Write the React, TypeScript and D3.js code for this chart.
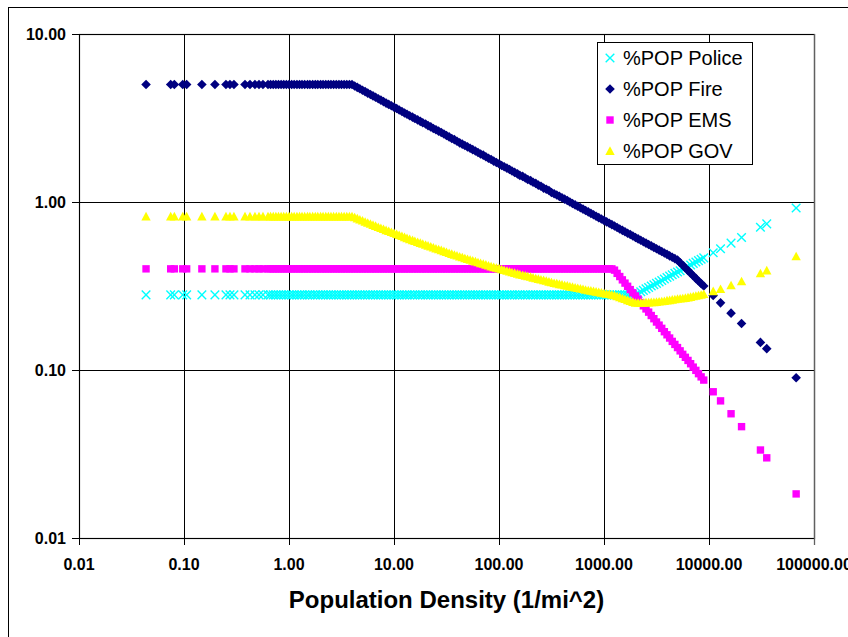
import React from "react";
import * as d3 from "d3";

// ---- data ----
// main sample of densities (1/mi^2)
const density = [
  0.0435, 0.0747, 0.0809, 0.0973, 0.106, 0.148, 0.197, 0.251, 0.274, 0.299, 0.381, 0.425, 0.474, 0.518, 0.565,
  0.631, 0.708, 0.794, 0.891, 1, 1.12, 1.26, 1.41, 1.58, 1.78, 2.0, 2.24, 2.51, 2.82, 3.16, 3.55,
  3.98, 4.47, 5.01, 5.62, 6.31, 7.08, 7.94, 8.91, 10, 11.2,
  12.6, 14.1, 15.8, 17.8, 20.0, 22.4, 25.1, 28.2, 31.6, 35.5,
  39.8, 44.7, 50.1, 56.2, 63.1, 70.8, 79.4, 89.1, 100, 112,
  126, 141, 158, 178, 200, 224, 251, 282, 316, 355,
  398, 447, 501, 562, 631, 708, 794, 891, 1000, 1122,
  1259, 1413, 1585, 1778, 1995, 2239, 2512, 2818, 3162, 3548,
  3981, 4467, 5012, 5623, 6310, 7079, 7943, 8913,
  10965, 12882, 16218, 20417, 30903, 35481, 67608,
];
// further densities lying between the ones above (dense band)
const densityMid = [
  0.668, 0.75, 0.841, 0.944, 1.06, 1.19, 1.33, 1.5, 1.68, 1.88, 2.11, 2.37, 2.66, 2.99, 3.35, 3.76,
  4.22, 4.73, 5.31, 5.96, 6.68, 7.5, 8.41, 9.44, 10.6, 11.9,
  13.3, 15.0, 16.8, 18.8, 21.1, 23.7, 26.6, 29.9, 33.5, 37.6,
  42.2, 47.3, 53.1, 59.6, 66.8, 75.0, 84.1, 94.4, 106, 119,
  133, 150, 168, 188, 211, 237, 266, 299, 335, 376,
  422, 473, 531, 596, 668, 750, 841, 944, 1059, 1189,
  1334, 1496, 1679, 1884, 2113, 2371, 2661, 2985, 3350, 3758,
  4217, 4732, 5309, 5957, 6683, 7499, 8414,
];

const police = [
  0.28, 0.28, 0.28, 0.28, 0.28, 0.28, 0.28, 0.28, 0.28, 0.28, 0.28, 0.28, 0.28, 0.28, 0.28,
  0.28, 0.28, 0.28, 0.28, 0.28, 0.28, 0.28, 0.28, 0.28, 0.28, 0.28, 0.28, 0.28, 0.28, 0.28, 0.28,
  0.28, 0.28, 0.28, 0.28, 0.28, 0.28, 0.28, 0.28, 0.28, 0.28,
  0.28, 0.28, 0.28, 0.28, 0.28, 0.28, 0.28, 0.28, 0.28, 0.28,
  0.28, 0.28, 0.28, 0.28, 0.28, 0.28, 0.28, 0.28, 0.28, 0.28,
  0.28, 0.28, 0.28, 0.28, 0.28, 0.28, 0.28, 0.28, 0.28, 0.28,
  0.28, 0.28, 0.28, 0.28, 0.28, 0.28, 0.28, 0.28, 0.28, 0.28,
  0.28, 0.28, 0.28, 0.28, 0.281, 0.292, 0.304, 0.316, 0.328, 0.341,
  0.355, 0.369, 0.383, 0.398, 0.414, 0.431, 0.448, 0.465,
  0.499, 0.527, 0.569, 0.615, 0.707, 0.741, 0.921,
];
const policeMid = [
  0.28, 0.28, 0.28, 0.28, 0.28, 0.28, 0.28, 0.28, 0.28, 0.28, 0.28, 0.28, 0.28, 0.28, 0.28, 0.28,
  0.28, 0.28, 0.28, 0.28, 0.28, 0.28, 0.28, 0.28, 0.28, 0.28,
  0.28, 0.28, 0.28, 0.28, 0.28, 0.28, 0.28, 0.28, 0.28, 0.28,
  0.28, 0.28, 0.28, 0.28, 0.28, 0.28, 0.28, 0.28, 0.28, 0.28,
  0.28, 0.28, 0.28, 0.28, 0.28, 0.28, 0.28, 0.28, 0.28, 0.28,
  0.28, 0.28, 0.28, 0.28, 0.28, 0.28, 0.28, 0.28, 0.28, 0.28,
  0.28, 0.28, 0.28, 0.28, 0.286, 0.298, 0.31, 0.322, 0.334, 0.348,
  0.362, 0.376, 0.39, 0.406, 0.422, 0.439, 0.456,
];

const fire = [
  5.0, 5.0, 5.0, 5.0, 5.0, 5.0, 5.0, 5.0, 5.0, 5.0, 5.0, 5.0, 5.0, 5.0, 5.0,
  5.0, 5.0, 5.0, 5.0, 5.0, 5.0, 5.0, 5.0, 5.0, 5.0, 5.0, 5.0, 5.0, 5.0, 5.0, 5.0,
  5.0, 4.81, 4.63, 4.45, 4.28, 4.12, 3.96, 3.81, 3.67, 3.53,
  3.39, 3.26, 3.14, 3.02, 2.91, 2.8, 2.69, 2.59, 2.49, 2.39,
  2.3, 2.21, 2.13, 2.05, 1.97, 1.9, 1.82, 1.75, 1.69, 1.62,
  1.56, 1.5, 1.44, 1.39, 1.34, 1.29, 1.24, 1.19, 1.14, 1.1,
  1.06, 1.02, 0.98, 0.943, 0.907, 0.873, 0.839, 0.807, 0.777, 0.747,
  0.719, 0.691, 0.665, 0.64, 0.615, 0.592, 0.569, 0.548, 0.527, 0.507,
  0.488, 0.469, 0.451, 0.42, 0.391, 0.364, 0.339, 0.316,
  0.278, 0.251, 0.218, 0.189, 0.146, 0.134, 0.0899,
];
const fireMid = [
  5.0, 5.0, 5.0, 5.0, 5.0, 5.0, 5.0, 5.0, 5.0, 5.0, 5.0, 5.0, 5.0, 5.0, 5.0, 5.0,
  4.9, 4.72, 4.54, 4.36, 4.2, 4.04, 3.88, 3.74, 3.6, 3.46,
  3.33, 3.2, 3.08, 2.96, 2.85, 2.74, 2.64, 2.54, 2.44, 2.35,
  2.25, 2.17, 2.09, 2.01, 1.93, 1.86, 1.79, 1.72, 1.65, 1.59,
  1.53, 1.47, 1.42, 1.36, 1.31, 1.26, 1.21, 1.17, 1.12, 1.08,
  1.04, 1.0, 0.961, 0.925, 0.89, 0.856, 0.823, 0.792, 0.762, 0.733,
  0.705, 0.678, 0.652, 0.627, 0.603, 0.58, 0.558, 0.537, 0.517, 0.497,
  0.478, 0.46, 0.435, 0.405, 0.377, 0.351, 0.327,
];

const ems = [
  0.4, 0.4, 0.4, 0.4, 0.4, 0.4, 0.4, 0.4, 0.4, 0.4, 0.4, 0.4, 0.4, 0.4, 0.4,
  0.4, 0.4, 0.4, 0.4, 0.4, 0.4, 0.4, 0.4, 0.4, 0.4, 0.4, 0.4, 0.4, 0.4, 0.4, 0.4,
  0.4, 0.4, 0.4, 0.4, 0.4, 0.4, 0.4, 0.4, 0.4, 0.4,
  0.4, 0.4, 0.4, 0.4, 0.4, 0.4, 0.4, 0.4, 0.4, 0.4,
  0.4, 0.4, 0.4, 0.4, 0.4, 0.4, 0.4, 0.4, 0.4, 0.4,
  0.4, 0.4, 0.4, 0.4, 0.4, 0.4, 0.4, 0.4, 0.4, 0.4,
  0.4, 0.4, 0.4, 0.4, 0.4, 0.4, 0.4, 0.4, 0.4, 0.4,
  0.393, 0.36, 0.329, 0.301, 0.276, 0.252, 0.231, 0.211, 0.193, 0.177,
  0.162, 0.148, 0.136, 0.124, 0.114, 0.104, 0.0951, 0.0871,
  0.0742, 0.0655, 0.0549, 0.046, 0.0334, 0.03, 0.0183,
];
const emsMid = [
  0.4, 0.4, 0.4, 0.4, 0.4, 0.4, 0.4, 0.4, 0.4, 0.4, 0.4, 0.4, 0.4, 0.4, 0.4, 0.4,
  0.4, 0.4, 0.4, 0.4, 0.4, 0.4, 0.4, 0.4, 0.4, 0.4,
  0.4, 0.4, 0.4, 0.4, 0.4, 0.4, 0.4, 0.4, 0.4, 0.4,
  0.4, 0.4, 0.4, 0.4, 0.4, 0.4, 0.4, 0.4, 0.4, 0.4,
  0.4, 0.4, 0.4, 0.4, 0.4, 0.4, 0.4, 0.4, 0.4, 0.4,
  0.4, 0.4, 0.4, 0.4, 0.4, 0.4, 0.4, 0.4, 0.4, 0.4,
  0.376, 0.344, 0.315, 0.288, 0.264, 0.241, 0.221, 0.202, 0.185, 0.169,
  0.155, 0.142, 0.13, 0.119, 0.109, 0.0995, 0.091,
];

const gov = [
  0.82, 0.82, 0.82, 0.82, 0.82, 0.82, 0.82, 0.82, 0.82, 0.82, 0.82, 0.82, 0.82, 0.82, 0.82,
  0.82, 0.82, 0.82, 0.82, 0.82, 0.82, 0.82, 0.82, 0.82, 0.82, 0.82, 0.82, 0.82, 0.82, 0.82, 0.82,
  0.821, 0.797, 0.774, 0.751, 0.729, 0.709, 0.689, 0.67, 0.652, 0.635,
  0.617, 0.6, 0.585, 0.57, 0.556, 0.542, 0.528, 0.516, 0.503, 0.49,
  0.479, 0.468, 0.457, 0.447, 0.437, 0.428, 0.418, 0.409, 0.402, 0.393,
  0.385, 0.378, 0.37, 0.364, 0.358, 0.351, 0.345, 0.339, 0.332, 0.327,
  0.322, 0.317, 0.312, 0.307, 0.303, 0.298, 0.294, 0.29, 0.286, 0.283,
  0.278, 0.271, 0.264, 0.257, 0.251, 0.251, 0.252, 0.253, 0.254, 0.256,
  0.259, 0.262, 0.265, 0.267, 0.27, 0.274, 0.278, 0.283,
  0.294, 0.303, 0.319, 0.337, 0.376, 0.391, 0.474,
];
const govMid = [
  0.82, 0.82, 0.82, 0.82, 0.82, 0.82, 0.82, 0.82, 0.82, 0.82, 0.82, 0.82, 0.82, 0.82, 0.82, 0.82,
  0.809, 0.785, 0.762, 0.74, 0.719, 0.699, 0.679, 0.661, 0.643, 0.626,
  0.608, 0.592, 0.577, 0.563, 0.549, 0.535, 0.522, 0.509, 0.496, 0.484,
  0.473, 0.462, 0.452, 0.442, 0.432, 0.423, 0.413, 0.405, 0.397, 0.389,
  0.381, 0.374, 0.367, 0.361, 0.354, 0.348, 0.342, 0.335, 0.329, 0.324,
  0.319, 0.314, 0.309, 0.305, 0.3, 0.296, 0.292, 0.288, 0.284, 0.28,
  0.274, 0.267, 0.26, 0.254, 0.251, 0.251, 0.252, 0.253, 0.255, 0.257,
  0.26, 0.263, 0.266, 0.268, 0.272, 0.276, 0.28,
];

const xTicks = [0.01, 0.1, 1, 10, 100, 1000, 10000, 100000];
const yTicks = [0.01, 0.1, 1, 10];
const seriesNames = ["%POP Police", "%POP Fire", "%POP EMS", "%POP GOV"];
const xTitle = "Population Density (1/mi^2)";

const W = 848;
const H = 637;
const plot = { left: 79, right: 814, top: 34, bottom: 538 };

const x = d3.scaleLog().domain([0.01, 100000]).range([plot.left, plot.right]);
const y = d3.scaleLog().domain([0.01, 10]).range([plot.bottom, plot.top]);

const shapes: Record<string, { d: string; fill: string; stroke: string; sw: number }> = {
  police: { d: "M-4.3,-4.3L4.3,4.3M-4.3,4.3L4.3,-4.3", fill: "none", stroke: "#00FFFF", sw: 1.4 },
  fire: { d: "M0,-4.8L4.8,0L0,4.8L-4.8,0Z", fill: "#000080", stroke: "none", sw: 0 },
  ems: { d: "M-3.7,-3.7H3.7V3.7H-3.7Z", fill: "#FF00FF", stroke: "none", sw: 0 },
  gov: { d: "M0,-4.7L4.7,3.9L-4.7,3.9Z", fill: "#FFFF00", stroke: "none", sw: 0 },
};

const allDensity = density.concat(densityMid);
const seriesList = [
  { key: "police", values: police.concat(policeMid) },
  { key: "fire", values: fire.concat(fireMid) },
  { key: "ems", values: ems.concat(emsMid) },
  { key: "gov", values: gov.concat(govMid) },
];

const fmt = d3.format(".2f");

function Marker({ kind, cx, cy }: { kind: string; cx: number; cy: number }) {
  const s = shapes[kind];
  return (
    <path
      d={s.d}
      transform={`translate(${cx},${cy})`}
      fill={s.fill}
      stroke={s.stroke}
      strokeWidth={s.sw}
    />
  );
}

export default function App() {
  const font = "Arial, 'Liberation Sans', Helvetica, sans-serif";
  return (
    <svg
      width={W}
      height={H}
      viewBox={`0 0 ${W} ${H}`}
      style={{ position: "absolute", left: 0, top: 0, background: "#fff" }}
      fontFamily={font}
    >
      <rect x={0} y={0} width={W} height={H} fill="#fff" />
      {/* outer chart border */}
      <rect x={8.5} y={7.5} width={1000} height={1000} fill="none" stroke="#000" strokeWidth={1} />

      {/* plot area border */}
      <rect
        x={plot.left + 0.5}
        y={plot.top + 0.5}
        width={plot.right - plot.left}
        height={plot.bottom - plot.top}
        fill="none"
        stroke="#808080"
        strokeWidth={1.3}
      />

      {/* gridlines */}
      {yTicks.map((t) => (
        <line
          key={"gy" + t}
          x1={plot.left - 7}
          x2={plot.right}
          y1={Math.round(y(t)) + 0.5}
          y2={Math.round(y(t)) + 0.5}
          stroke="#000"
          strokeWidth={1}
        />
      ))}
      {xTicks.map((t) => (
        <line
          key={"gx" + t}
          x1={Math.round(x(t)) + 0.5}
          x2={Math.round(x(t)) + 0.5}
          y1={plot.top}
          y2={plot.bottom + 7}
          stroke={t === 100000 ? "#606060" : "#000"}
          strokeWidth={t === 100000 ? 1.3 : 1}
        />
      ))}

      {/* data */}
      {seriesList.map((s) => (
        <g key={s.key}>
          {allDensity.map((dv, i) => (
            <Marker key={i} kind={s.key} cx={x(dv)} cy={y(s.values[i])} />
          ))}
        </g>
      ))}

      {/* y tick labels */}
      {yTicks.map((t) => (
        <text
          key={"ly" + t}
          x={66}
          y={y(t) + 6}
          textAnchor="end"
          fontSize={16}
          fontWeight="bold"
          fill="#000"
        >
          {fmt(t)}
        </text>
      ))}
      {/* x tick labels (the last one runs off the right edge, as in the reference) */}
      {xTicks.map((t) => (
        <text
          key={"lx" + t}
          x={x(t)}
          y={570}
          textAnchor="middle"
          fontSize={16}
          fontWeight="bold"
          fill="#000"
        >
          {fmt(t)}
        </text>
      ))}

      {/* x axis title */}
      <text
        x={(plot.left + plot.right) / 2}
        y={608}
        textAnchor="middle"
        fontSize={24}
        fontWeight="bold"
        fill="#000"
      >
        {xTitle}
      </text>

      {/* legend */}
      <rect x={597.5} y={42.5} width={155} height={122} fill="#fff" stroke="#000" strokeWidth={1} />
      {seriesList.map((s, i) => (
        <g key={"leg" + s.key}>
          <Marker kind={s.key} cx={610} cy={58 + i * 31} />
          <text x={623} y={58 + i * 31 + 7} fontSize={20} fill="#000">
            {seriesNames[i]}
          </text>
        </g>
      ))}
    </svg>
  );
}
